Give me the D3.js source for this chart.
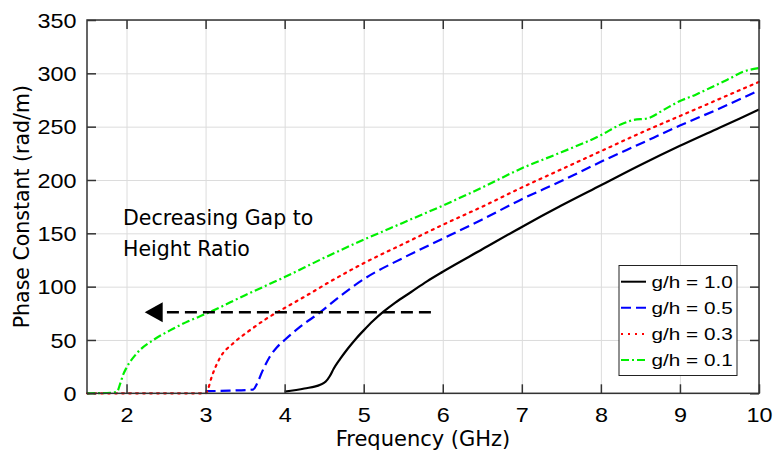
<!DOCTYPE html>
<html>
<head>
<meta charset="utf-8">
<script src="https://cdn.jsdelivr.net/npm/d3@7/dist/d3.min.js"></script>
<style>
  html, body { margin: 0; padding: 0; background: #ffffff; }
  svg { display: block; }
</style>
</head>
<body>
<svg id="chart" width="774" height="458"></svg>
<script>
// Tick values
const freqTicks = [2, 3, 4, 5, 6, 7, 8, 9, 10];
const phaseTicks = [0, 50, 100, 150, 200, 250, 300, 350];

// Series labels (legend order)
const seriesLabels = ["g/h = 1.0", "g/h = 0.5", "g/h = 0.3", "g/h = 0.1"];

// g/h = 1.0
const freqG10 = [4.0, 4.25, 4.45, 4.52, 4.57, 4.62, 4.7, 4.8, 4.9, 5.0, 5.12, 5.25, 5.4, 5.6, 5.8, 6.0, 6.5, 7.0, 7.5, 8.0, 8.5, 9.0, 9.5, 10.0];
const phaseG10 = [1.5, 4.5, 8, 11, 16, 23, 32, 42, 51, 59, 68, 76.5, 85, 95, 105, 114, 135, 156, 176, 195, 214, 232, 249, 266];

// g/h = 0.5
const freqG05 = [3.0, 3.3, 3.6, 3.65, 3.72, 3.81, 3.9, 4.0, 4.19, 4.45, 4.7, 5.0, 5.5, 6.0, 6.5, 7.0, 7.5, 8.0, 8.5, 9.0, 9.5, 10.0];
const phaseG05 = [2, 2.5, 3.5, 9, 21, 34, 43, 50, 62, 76, 91, 107, 127, 145, 163, 182, 199, 217, 234, 251, 267, 284];

// g/h = 0.3
const freqG03 = [1.5, 2.5, 3.0, 3.02, 3.08, 3.18, 3.35, 3.54, 3.77, 4.0, 4.25, 4.57, 5.0, 5.5, 6.0, 6.5, 7.0, 7.5, 8.0, 8.5, 9.0, 9.5, 10.0];
const phaseG03 = [0, 0, 0, 2, 16, 33, 47, 58, 70, 80, 90.5, 104.5, 122, 140, 158, 175, 193, 210, 227, 244, 260, 276, 292];

// g/h = 0.1
const freqG01 = [1.5, 1.8, 1.88, 1.92, 1.96, 2.0, 2.13, 2.34, 2.55, 2.75, 3.02, 3.5, 4.0, 4.5, 5.0, 5.5, 6.0, 6.5, 7.0, 7.5, 8.0, 8.25, 8.4, 8.6, 8.8, 9.0, 9.2, 9.4, 9.6, 9.8, 10.0];
const phaseG01 = [0, 0.5, 1.5, 9, 18, 24, 37.5, 50, 59, 66.5, 75, 92, 109, 127, 144, 160, 176, 193, 211, 226, 242, 252, 256, 258, 266, 274, 280, 287, 294, 301.5, 305];

// Annotation arrow (frequency span and phase level)
const arrowFreqStart = 5.85;
const arrowFreqTip = 2.23;
const arrowPhase = 76;
const annotationLines = ["Decreasing Gap to", "Height Ratio"];

const series = [
  { label: seriesLabels[0], f: freqG10, v: phaseG10, color: "#000000", dash: null },
  { label: seriesLabels[1], f: freqG05, v: phaseG05, color: "#0000ff", dash: "10,5" },
  { label: seriesLabels[2], f: freqG03, v: phaseG03, color: "#ff0000", dash: "2,5" },
  { label: seriesLabels[3], f: freqG01, v: phaseG01, color: "#00f000", dash: "8,3,2,3" }
];

const svg = d3.select("#chart");
const plotLeft = 87, plotRight = 759, plotTop = 20, plotBottom = 393.3;
const W = plotRight - plotLeft, H = plotBottom - plotTop;

const x = d3.scaleLinear().domain([1.5, 10]).range([plotLeft, plotRight]);
const y = d3.scaleLinear().domain([0, 350]).range([plotBottom, plotTop]);

const frameColor = "#333333";
const numFont = "'Liberation Sans', Arial, sans-serif";
const titleFont = "'DejaVu Sans', Verdana, sans-serif";

// Grid lines
svg.append("g")
  .attr("transform", `translate(0,${plotBottom})`)
  .call(d3.axisBottom(x).tickValues(freqTicks).tickSize(-H).tickFormat(""))
  .call(g => g.select(".domain").remove())
  .call(g => g.selectAll("line").attr("stroke", "#dcdcdc").attr("stroke-width", 1));
svg.append("g")
  .attr("transform", `translate(${plotLeft},0)`)
  .call(d3.axisLeft(y).tickValues(phaseTicks).tickSize(-W).tickFormat(""))
  .call(g => g.select(".domain").remove())
  .call(g => g.selectAll("line").attr("stroke", "#dcdcdc").attr("stroke-width", 1));

// Curves
const line = d3.line()
  .x(d => x(d[0]))
  .y(d => y(d[1]))
  .curve(d3.curveMonotoneX);

series.forEach(s => {
  svg.append("path")
    .datum(s.f.map((f, i) => [f, s.v[i]]))
    .attr("fill", "none")
    .attr("stroke", s.color)
    .attr("stroke-width", 2.2)
    .attr("stroke-dasharray", s.dash)
    .attr("stroke-linecap", s.dash === "2,5" ? "round" : "butt")
    .attr("d", line);
});

// Frame
svg.append("rect")
  .attr("x", plotLeft).attr("y", plotTop)
  .attr("width", W).attr("height", H)
  .attr("fill", "none")
  .attr("stroke", frameColor)
  .attr("stroke-width", 1.5);

function styleTicks(g) {
  g.select(".domain").remove();
  g.selectAll("line").attr("stroke", frameColor).attr("stroke-width", 1.5);
}

// Bottom axis (inward ticks, labels below)
const xAxis = svg.append("g")
  .attr("transform", `translate(0,${plotBottom})`)
  .call(d3.axisBottom(x).tickValues(freqTicks).tickSize(-9).tickFormat(d3.format("d")))
  .call(styleTicks);
xAxis.selectAll("text")
  .attr("x", null).attr("y", null).attr("dy", null)
  .attr("transform", "translate(0,28.7) scale(1.17,1)")
  .attr("text-anchor", "middle")
  .style("font-family", numFont).style("font-size", "20px").attr("fill", "#000");

// Left axis
const yAxis = svg.append("g")
  .attr("transform", `translate(${plotLeft},0)`)
  .call(d3.axisLeft(y).tickValues(phaseTicks).tickSize(-9).tickFormat(d3.format("d")))
  .call(styleTicks);
yAxis.selectAll("text")
  .attr("x", null).attr("y", null).attr("dy", null)
  .attr("transform", "translate(-10.5,7.2) scale(1.17,1)")
  .attr("text-anchor", "end")
  .style("font-family", numFont).style("font-size", "20px").attr("fill", "#000");

// Top and right ticks
svg.append("g")
  .attr("transform", `translate(0,${plotTop})`)
  .call(d3.axisTop(x).tickValues(freqTicks).tickSize(-9).tickFormat(""))
  .call(styleTicks);
svg.append("g")
  .attr("transform", `translate(${plotRight},0)`)
  .call(d3.axisRight(y).tickValues(phaseTicks).tickSize(-9).tickFormat(""))
  .call(styleTicks);

// Axis titles
svg.append("text")
  .attr("x", (plotLeft + plotRight) / 2).attr("y", 446)
  .attr("text-anchor", "middle")
  .style("font-family", titleFont).style("font-size", "21px")
  .text("Frequency (GHz)");
svg.append("text")
  .attr("transform", `translate(29,${(plotTop + plotBottom) / 2}) rotate(-90)`)
  .attr("text-anchor", "middle")
  .style("font-family", titleFont).style("font-size", "20.5px")
  .text("Phase Constant (rad/m)");

// Annotation arrow
const headLen = 18, headHalf = 10;
const ay = y(arrowPhase);
svg.append("line")
  .attr("x1", x(arrowFreqStart)).attr("y1", ay)
  .attr("x2", x(arrowFreqTip) + headLen).attr("y2", ay)
  .attr("stroke", "#000").attr("stroke-width", 2.4)
  .attr("stroke-dasharray", "12,6");
svg.append("path")
  .attr("d", `M${x(arrowFreqTip)},${ay} L${x(arrowFreqTip) + headLen},${ay - headHalf} L${x(arrowFreqTip) + headLen},${ay + headHalf} Z`)
  .attr("fill", "#000");

// Annotation text
const ann = svg.append("text")
  .style("font-family", titleFont).style("font-size", "20.5px")
  .attr("fill", "#000");
annotationLines.forEach((t, i) => {
  ann.append("tspan").attr("x", 123).attr("y", 225 + i * 31).text(t);
});

// Legend
const legend = svg.append("g");
legend.append("rect")
  .attr("x", 619).attr("y", 265.5)
  .attr("width", 118).attr("height", 110)
  .attr("fill", "#fff")
  .attr("stroke", "#222").attr("stroke-width", 1);
series.forEach((s, i) => {
  const cy = 281.7 + i * 26.1;
  legend.append("line")
    .attr("x1", 621).attr("x2", 646)
    .attr("y1", cy).attr("y2", cy)
    .attr("stroke", s.color).attr("stroke-width", 2)
    .attr("stroke-dasharray", s.dash);
  legend.append("text")
    .attr("transform", `translate(651.5,${cy + 6.1}) scale(1.22,1)`)
    .style("font-family", numFont).style("font-size", "17px")
    .attr("fill", "#000")
    .text(s.label);
});
</script>
</body>
</html>
